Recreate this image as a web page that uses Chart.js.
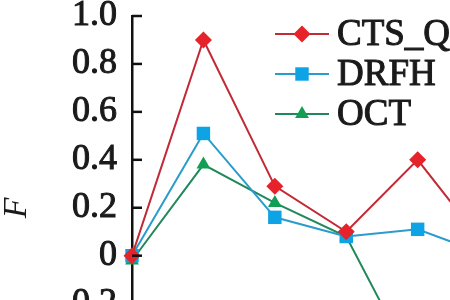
<!DOCTYPE html>
<html>
<head>
<meta charset="utf-8">
<script src="https://cdn.jsdelivr.net/npm/chart.js@4/dist/chart.umd.min.js"></script>
<style>
  html, body { margin: 0; padding: 0; background: #fff; overflow: hidden; width: 450px; height: 300px; }
  canvas { display: block; }
</style>
</head>
<body>
<canvas id="chart" width="560" height="409"></canvas>
<script>
// the picture is a crop of a wider, taller figure
const steps = [1, 2, 3, 4, 5, 6];
const ctsQ = [0, 0.90, 0.29, 0.10, 0.40, 0.02];
const drfh = [0, 0.51, 0.16, 0.08, 0.11, 0.0];
const oct = [-0.02, 0.38, 0.22, 0.08, -0.49, null];
const yTicks = [1.0, 0.8, 0.6, 0.4, 0.2, 0, -0.2, -0.4, -0.6];

const FONT = "'Liberation Serif', 'Times New Roman', serif";
const INK = "#1a1a1a";

function points(values) {
  return steps.map((x, i) => ({ x: x, y: values[i] }));
}

// inward tick marks on the y axis
const innerTicks = {
  id: "innerTicks",
  afterDraw(chart) {
    const ctx = chart.ctx;
    const y = chart.scales.y;
    const left = chart.chartArea.left;
    ctx.save();
    ctx.strokeStyle = "#111";
    ctx.lineWidth = 2.5;
    y.ticks.forEach((t) => {
      const py = y.getPixelForValue(t.value);
      ctx.beginPath();
      ctx.moveTo(left, py);
      ctx.lineTo(left + 10, py);
      ctx.stroke();
    });
    ctx.restore();
  },
};

// legend with line + marker
const lineLegend = {
  id: "lineLegend",
  afterDraw(chart) {
    const ctx = chart.ctx;
    ctx.save();
    chart.data.datasets.forEach((ds, i) => {
      const cy = 34 + i * 40;
      ctx.strokeStyle = ds.borderColor;
      ctx.lineWidth = 2;
      ctx.beginPath();
      ctx.moveTo(275, cy);
      ctx.lineTo(329, cy);
      ctx.stroke();
      ctx.fillStyle = ds.pointBackgroundColor;
      ctx.strokeStyle = ds.pointBackgroundColor;
      Chart.helpers.drawPoint(ctx, {
        pointStyle: ds.pointStyle,
        radius: ds.pointRadius,
        rotation: 0,
        borderWidth: 0,
      }, 302, cy);
      ctx.fillStyle = INK;
      ctx.strokeStyle = INK;
      ctx.lineWidth = 1;
      ctx.font = "37px " + FONT;
      ctx.textBaseline = "middle";
      ctx.textAlign = "left";
      ctx.fillText(ds.label, 337, cy + 1);
      ctx.strokeText(ds.label, 337, cy + 1);
    });
    ctx.restore();
  },
};

new Chart(document.getElementById("chart"), {
  type: "line",
  data: {
    datasets: [
      {
        label: "CTS_Q",
        data: points(ctsQ),
        borderColor: "#c22a36",
        borderWidth: 2,
        pointStyle: "rectRot",
        pointRadius: 8.5,
        pointBackgroundColor: "#e6222a",
        pointBorderWidth: 0,
      },
      {
        label: "DRFH",
        data: points(drfh),
        borderColor: "#2a9ccc",
        borderWidth: 2,
        pointStyle: "rect",
        pointRadius: 9.5,
        pointBackgroundColor: "#0ea3e4",
        pointBorderWidth: 0,
      },
      {
        label: "OCT",
        data: points(oct),
        borderColor: "#20885a",
        borderWidth: 2,
        pointStyle: "triangle",
        pointRadius: 8,
        pointBackgroundColor: "#129f55",
        pointBorderWidth: 0,
      },
    ],
  },
  options: {
    responsive: false,
    animation: false,
    clip: false,
    layout: { padding: { top: 16, right: 0, bottom: 3, left: 0 } },
    plugins: {
      legend: { display: false },
      tooltip: { enabled: false },
    },
    scales: {
      x: {
        type: "linear",
        display: false,
        min: 1,
        max: 6.86,
      },
      y: {
        min: -0.6,
        max: 1.0,
        afterFit(scale) {
          scale.width = 132;
          scale.paddingTop = 0;
          scale.paddingBottom = 0;
        },
        afterBuildTicks(scale) {
          scale.ticks = yTicks.map((v) => ({ value: v }));
        },
        grid: { drawOnChartArea: false, drawTicks: false },
        border: { display: true, color: "#111", width: 2.5 },
        ticks: {
          autoSkip: false,
          padding: 15,
          color: INK,
          textStrokeColor: INK,
          textStrokeWidth: 1,
          font: { family: FONT, size: 36 },
          callback: (v) => (v === 0 ? "0" : v.toFixed(1)),
        },
        title: {
          display: true,
          text: "F",
          color: INK,
          padding: 0,
          font: { family: FONT, size: 34, style: "italic", lineHeight: 1 },
        },
      },
    },
  },
  plugins: [innerTicks, lineLegend],
});
</script>
</body>
</html>
